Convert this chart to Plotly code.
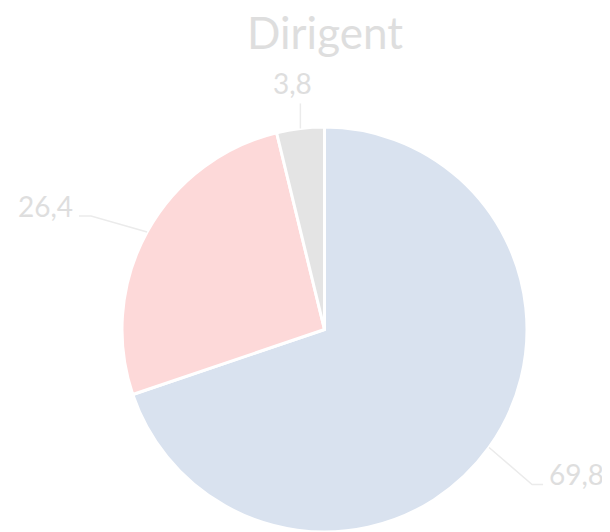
import math
import plotly.graph_objects as go

# ---- data ----
categories = ["A", "B", "C"]
values = [69.8, 26.4, 3.8]
value_labels = ["69,8", "26,4", "3,8"]
colors = ["#D9E2EF", "#FDD9D9", "#E4E4E4"]
title_text = "Dirigent"

# ---- layout config ----
WIN_W, WIN_H = 610, 532
OFF = 8                      # default page body margin
W, H = WIN_W - OFF, WIN_H - OFF
# pie domain in window pixels
PX0, PX1 = 122, 527
PY0, PY1 = 127, 532
CX = (PX0 + PX1) / 2
CY = (PY0 + PY1) / 2
R = min(PX1 - PX0, PY1 - PY0) / 2

# leader line config per slice: elbow offset from slice edge, horizontal run, side
LEADERS = [
    dict(elbow=(43, 37), run=11, side="right"),
    dict(elbow=(-56, -16), run=-12, side="left"),
    dict(elbow=(0, -25), run=0, side="top"),
]

TEXT_COLOR = "#DEDEDE"
LINE_COLOR = "#EBEBEB"
FONT = "Lato, Carlito, Calibri, 'Open Sans', sans-serif"


def px(x):
    return (x - OFF) / W


def py(y):
    return 1 - (y - OFF) / H


fig = go.Figure(
    go.Pie(
        labels=categories,
        values=values,
        sort=False,
        direction="clockwise",
        rotation=0,
        marker=dict(colors=colors, line=dict(color="white", width=3)),
        textinfo="none",
        hoverinfo="label+value",
        domain=dict(x=[px(PX0), px(PX1)], y=[max(0, py(PY1)), py(PY0)]),
        showlegend=False,
    )
)

total = sum(values)
cum = 0.0
shapes = []
annotations = []
for v, lab, cfg in zip(values, value_labels, LEADERS):
    mid = (cum + v / 2) / total * 2 * math.pi
    cum += v
    ex = CX + R * math.sin(mid)
    ey = CY - R * math.cos(mid)
    bx = ex + cfg["elbow"][0]
    by = ey + cfg["elbow"][1]
    hx = bx + cfg["run"]
    path = f"M {px(ex)} {py(ey)} L {px(bx)} {py(by)} L {px(hx)} {py(by)}"
    shapes.append(dict(type="path", xref="paper", yref="paper", path=path,
                       line=dict(color=LINE_COLOR, width=1.5)))
    if cfg["side"] == "right":
        ax, ay, xa, ya = hx + 4, by - 10, "left", "middle"
    elif cfg["side"] == "left":
        ax, ay, xa, ya = hx - 4, by - 10, "right", "middle"
    else:
        ax, ay, xa, ya = bx - 8, by - 20, "center", "middle"
    annotations.append(dict(x=px(ax), y=py(ay), xref="paper", yref="paper",
                            text=lab, showarrow=False, xanchor=xa, yanchor=ya,
                            font=dict(family=FONT, size=28, color=TEXT_COLOR)))

annotations.append(dict(x=px(CX), y=py(32), xref="paper", yref="paper",
                        text=title_text, showarrow=False, xanchor="center",
                        yanchor="middle",
                        font=dict(family=FONT, size=44, color=TEXT_COLOR)))

fig.update_layout(
    width=W, height=H,
    margin=dict(l=0, r=0, t=0, b=0),
    paper_bgcolor="white",
    plot_bgcolor="white",
    shapes=shapes,
    annotations=annotations,
)

fig.write_html("out.html")
